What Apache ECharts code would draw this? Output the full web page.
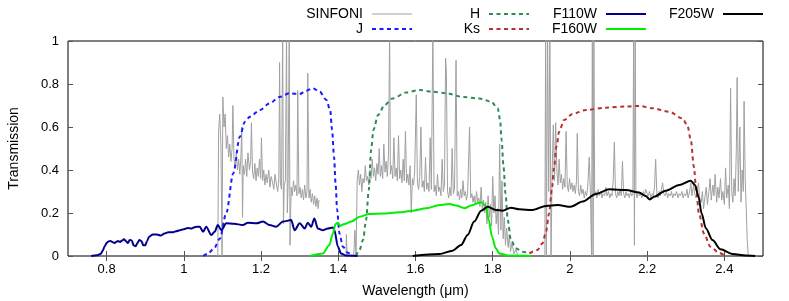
<!DOCTYPE html>
<html>
<head>
<meta charset="utf-8">
<script src="https://cdn.jsdelivr.net/npm/echarts@6/dist/echarts.min.js"></script>
<style>html,body{margin:0;padding:0;background:#fff}#c{width:789px;height:301px}</style>
</head>
<body>
<div id="c"></div>
<script>
const xTicks = [0.8, 1.0, 1.2, 1.4, 1.6, 1.8, 2.0, 2.2, 2.4];

const sinfoni = [
[1.088,0.0],[1.090,0.58],[1.093,0.66],[1.096,0.52],[1.099,0.0],[1.101,0.74],[1.104,0.6],[1.107,0.66],[1.110,0.5],[1.113,0.56],
[1.116,0.46],[1.119,0.52],[1.122,0.44],[1.125,0.5],[1.127,0.7],[1.130,0.45],[1.133,0.41],[1.136,0.48],[1.139,0.4],[1.142,0.45],
[1.145,0.38],[1.148,0.47],[1.150,0.6],[1.152,0.18],[1.154,0.42],[1.157,0.38],[1.160,0.45],[1.163,0.37],[1.166,0.48],[1.170,0.4],
[1.173,0.44],[1.175,0.62],[1.178,0.39],[1.181,0.36],[1.184,0.43],[1.187,0.35],[1.190,0.41],[1.193,0.37],[1.196,0.45],[1.199,0.36],
[1.201,0.55],[1.204,0.35],[1.207,0.4],[1.210,0.33],[1.213,0.38],[1.216,0.34],[1.220,0.4],[1.223,0.32],[1.226,0.37],[1.230,0.34],
[1.233,0.31],[1.236,0.38],[1.240,0.33],[1.243,0.3],[1.246,0.36],[1.248,0.9],[1.250,0.34],[1.253,0.31],[1.256,1.05],[1.258,0.15],
[1.260,0.33],[1.263,0.35],[1.266,1.05],[1.268,0.2],[1.270,0.33],[1.273,1.05],[1.275,0.05],[1.278,0.32],[1.281,0.28],[1.284,0.35],
[1.287,0.3],[1.290,0.33],[1.293,0.28],[1.295,0.77],[1.298,0.29],[1.301,0.32],[1.304,0.27],[1.307,0.31],[1.310,0.26],[1.313,0.33],
[1.316,0.27],[1.319,0.3],[1.321,0.85],[1.324,0.27],[1.327,0.31],[1.330,0.25],[1.333,0.29],[1.336,0.24],[1.339,0.28],[1.342,0.23],
[1.345,0.27],[1.348,0.22],[1.350,0.26],[1.351,null],
[1.420,0.0],[1.421,0.1],[1.423,0.0],[1.440,0.0],[1.443,0.12],[1.446,0.0],[1.449,0.35],[1.452,0.4],[1.455,0.33],[1.458,0.38],
[1.461,0.3],[1.464,0.36],[1.467,0.34],[1.470,0.42],[1.473,0.35],[1.476,0.37],[1.479,0.33],[1.482,0.4],[1.485,0.36],[1.488,0.45],
[1.491,0.37],[1.494,0.41],[1.497,0.35],[1.500,0.43],[1.503,0.38],[1.506,0.5],[1.509,0.37],[1.512,0.42],[1.515,0.36],[1.518,0.52],
[1.521,0.39],[1.524,0.44],[1.527,0.37],[1.530,0.47],[1.533,1.05],[1.535,0.38],[1.538,0.42],[1.541,0.36],[1.544,0.55],[1.547,0.37],
[1.550,0.41],[1.553,0.35],[1.556,0.56],[1.559,0.36],[1.562,0.4],[1.565,0.34],[1.568,0.45],[1.571,0.35],[1.574,0.58],[1.577,0.34],
[1.580,0.38],[1.583,0.33],[1.586,0.42],[1.589,0.2],[1.592,0.36],[1.595,0.33],[1.598,0.4],[1.602,0.75],[1.605,0.34],[1.608,0.31],
[1.611,0.37],[1.614,0.6],[1.617,0.32],[1.620,0.35],[1.623,0.3],[1.626,0.46],[1.629,0.31],[1.632,0.34],[1.635,0.3],[1.638,0.55],
[1.641,0.31],[1.645,1.05],[1.648,0.3],[1.651,0.33],[1.654,0.28],[1.657,0.38],[1.660,0.3],[1.663,0.32],[1.666,0.28],[1.669,0.45],
[1.672,0.3],[1.675,0.33],[1.678,0.92],[1.680,0.85],[1.683,0.3],[1.686,0.27],[1.689,0.32],[1.692,0.28],[1.695,0.5],[1.698,0.29],
[1.701,0.31],[1.705,0.91],[1.708,0.28],[1.711,0.3],[1.714,0.26],[1.717,0.31],[1.720,0.27],[1.723,0.35],[1.726,0.28],[1.729,0.3],
[1.732,0.26],[1.735,0.29],[1.740,0.6],[1.743,0.27],[1.746,0.29],[1.749,0.25],[1.752,0.28],[1.755,0.24],[1.758,0.3],[1.761,0.25],
[1.764,0.27],[1.767,0.23],[1.770,0.32],[1.773,0.22],[1.776,0.26],[1.779,0.2],[1.782,0.25],[1.785,0.15],[1.788,0.28],[1.791,0.18],
[1.794,0.24],[1.797,0.14],[1.800,0.37],[1.803,0.2],[1.806,0.28],[1.809,0.15],[1.812,0.22],[1.815,0.1],[1.818,0.52],[1.821,0.12],
[1.824,0.35],[1.827,0.08],[1.830,0.18],[1.833,0.05],[1.836,0.13],[1.840,0.04],[1.843,0.1],[1.846,0.02],[1.850,0.06],[1.855,0.01],
[1.860,0.03],[1.865,0.0],[1.866,null],
[1.935,0.0],[1.937,1.05],[1.939,0.0],[1.942,1.05],[1.945,0.3],[1.948,1.05],[1.951,0.0],[1.954,0.4],[1.957,0.61],[1.960,0.35],
[1.963,0.62],[1.966,0.4],[1.969,0.33],[1.972,0.45],[1.975,0.34],[1.978,0.38],[1.981,0.31],[1.984,0.36],[1.987,0.32],[1.990,0.58],
[1.993,0.33],[1.996,0.3],[1.999,0.36],[2.002,0.31],[2.005,0.34],[2.008,0.3],[2.011,0.33],[2.014,0.29],[2.017,0.35],[2.019,0.57],
[2.022,0.3],[2.025,0.28],[2.028,0.33],[2.031,0.29],[2.034,0.31],[2.037,0.27],[2.040,0.3],[2.043,0.28],[2.046,0.32],[2.050,0.46],
[2.053,0.29],[2.056,0.0],[2.058,1.05],[2.060,0.0],[2.062,1.05],[2.064,0.28],[2.067,0.3],[2.070,0.27],[2.073,0.31],[2.076,0.28],
[2.080,0.3],[2.083,0.27],[2.086,0.29],[2.090,0.28],[2.093,0.32],[2.096,0.28],[2.100,0.3],[2.103,0.27],[2.106,0.29],[2.109,0.28],
[2.112,0.35],[2.115,0.53],[2.118,0.29],[2.121,0.27],[2.124,0.3],[2.127,0.28],[2.130,0.31],[2.133,0.28],[2.136,0.44],[2.139,0.29],
[2.142,0.27],[2.145,0.3],[2.148,0.28],[2.151,0.29],[2.154,0.27],[2.157,0.3],[2.160,0.28],[2.163,0.29],[2.165,1.05],[2.167,0.05],
[2.169,1.05],[2.171,0.29],[2.174,0.27],[2.177,0.3],[2.180,0.28],[2.183,0.29],[2.186,0.27],[2.190,0.3],[2.193,0.28],[2.196,0.31],
[2.200,0.29],[2.203,0.28],[2.206,0.3],[2.210,0.27],[2.213,0.29],[2.216,0.28],[2.219,0.32],[2.222,0.45],[2.225,0.29],[2.228,0.27],
[2.231,0.3],[2.234,0.28],[2.237,0.31],[2.240,0.34],[2.243,0.29],[2.246,0.28],[2.250,0.3],[2.253,0.27],[2.256,0.29],[2.260,0.28],
[2.263,0.3],[2.266,0.27],[2.270,0.29],[2.273,0.28],[2.276,0.3],[2.280,0.27],[2.283,0.29],[2.286,0.28],[2.290,0.3],[2.293,0.27],
[2.296,0.29],[2.300,0.28],[2.303,0.31],[2.306,0.27],[2.310,0.3],[2.313,0.34],[2.316,0.28],[2.320,0.33],[2.323,0.29],[2.326,0.27],
[2.330,0.31],[2.333,0.34],[2.336,0.27],[2.340,0.25],[2.343,0.3],[2.346,0.22],[2.350,0.28],[2.353,0.32],[2.356,0.24],[2.360,0.3],
[2.363,0.36],[2.366,0.26],[2.370,0.33],[2.373,0.28],[2.376,0.38],[2.380,0.25],[2.383,0.32],[2.386,0.27],[2.390,0.36],[2.393,0.26],
[2.396,0.3],[2.400,0.24],[2.403,0.41],[2.406,0.27],[2.410,0.33],[2.413,0.22],[2.416,0.78],[2.419,0.3],[2.422,0.25],[2.425,0.36],
[2.428,0.28],[2.431,0.5],[2.433,0.83],[2.436,0.3],[2.440,0.6],[2.443,0.25],[2.446,0.4],[2.449,0.3],[2.451,0.72],[2.454,0.35],
[2.457,0.2],[2.459,0.08],[2.462,0.0]
];

const bandJ = [
[1.050,0.0],[1.062,0.01],[1.078,0.035],[1.093,0.08],[1.110,0.2],[1.128,0.384],[1.145,0.555],[1.158,0.625],[1.171,0.648],[1.197,0.679],
[1.222,0.71],[1.248,0.74],[1.274,0.757],[1.300,0.753],[1.317,0.769],[1.334,0.78],[1.352,0.764],[1.369,0.726],[1.379,0.679],[1.384,0.586],
[1.389,0.462],[1.393,0.338],[1.397,0.214],[1.403,0.105],[1.412,0.043],[1.425,0.015],[1.438,0.0]
];

const bandH = [
[1.446,0.0],[1.455,0.028],[1.464,0.074],[1.472,0.167],[1.479,0.307],[1.485,0.493],[1.491,0.586],[1.503,0.656],[1.520,0.702],[1.541,0.733],
[1.576,0.76],[1.610,0.772],[1.645,0.764],[1.679,0.757],[1.722,0.74],[1.765,0.733],[1.796,0.718],[1.813,0.687],[1.819,0.633],[1.823,0.54],
[1.828,0.415],[1.833,0.291],[1.839,0.167],[1.847,0.074],[1.860,0.036],[1.877,0.02],[1.895,0.012]
];

const bandKs = [
[1.895,0.012],[1.916,0.028],[1.929,0.059],[1.938,0.113],[1.946,0.198],[1.953,0.307],[1.959,0.415],[1.965,0.509],[1.972,0.578],[1.985,0.633],
[2.007,0.661],[2.041,0.679],[2.093,0.69],[2.145,0.695],[2.179,0.698],[2.214,0.687],[2.257,0.671],[2.291,0.64],[2.304,0.609],[2.313,0.54],
[2.321,0.415],[2.327,0.307],[2.334,0.198],[2.347,0.105],[2.364,0.043],[2.386,0.015],[2.403,0.0]
];

const f110w = [
[0.760,0.0],[0.775,0.003],[0.785,0.01],[0.790,0.025],[0.795,0.045],[0.800,0.06],[0.805,0.068],[0.810,0.07],[0.815,0.065],[0.820,0.06],
[0.825,0.066],[0.830,0.07],[0.835,0.065],[0.840,0.072],[0.845,0.078],[0.850,0.07],[0.855,0.06],[0.860,0.075],[0.865,0.072],[0.870,0.05],
[0.875,0.045],[0.880,0.06],[0.885,0.075],[0.890,0.07],[0.895,0.05],[0.900,0.05],[0.905,0.07],[0.910,0.09],[0.920,0.1],[0.930,0.1],
[0.940,0.095],[0.950,0.105],[0.960,0.11],[0.970,0.11],[0.980,0.115],[0.990,0.12],[1.000,0.125],[1.010,0.13],[1.020,0.128],[1.030,0.135],
[1.041,0.136],[1.050,0.113],[1.058,0.136],[1.071,0.098],[1.080,0.113],[1.088,0.144],[1.097,0.12],[1.110,0.152],[1.130,0.15],[1.153,0.144],
[1.166,0.155],[1.188,0.152],[1.205,0.16],[1.222,0.144],[1.239,0.136],[1.257,0.16],[1.278,0.167],[1.287,0.12],[1.300,0.152],[1.313,0.128],
[1.321,0.155],[1.330,0.136],[1.338,0.175],[1.347,0.128],[1.360,0.12],[1.373,0.128],[1.386,0.133],[1.390,0.12],[1.399,0.043],[1.407,0.012],
[1.420,0.002],[1.450,0.0]
];

const f160w = [
[1.326,0.0],[1.360,0.012],[1.377,0.051],[1.386,0.105],[1.393,0.149],[1.399,0.155],[1.405,0.14],[1.416,0.149],[1.434,0.16],[1.455,0.183],
[1.481,0.195],[1.515,0.198],[1.558,0.203],[1.593,0.211],[1.628,0.222],[1.662,0.237],[1.688,0.242],[1.705,0.235],[1.727,0.222],[1.744,0.235],
[1.761,0.245],[1.770,0.25],[1.781,0.235],[1.790,0.167],[1.798,0.09],[1.808,0.036],[1.817,0.012],[1.840,0.002],[1.900,0.0]
];

const f205w = [
[1.593,0.0],[1.662,0.009],[1.696,0.025],[1.718,0.051],[1.735,0.098],[1.752,0.16],[1.770,0.211],[1.787,0.229],[1.808,0.214],[1.826,0.211],
[1.847,0.225],[1.869,0.217],[1.903,0.214],[1.938,0.233],[1.968,0.237],[2.002,0.229],[2.033,0.253],[2.067,0.288],[2.102,0.31],[2.145,0.307],
[2.179,0.295],[2.196,0.279],[2.207,0.263],[2.218,0.276],[2.248,0.304],[2.283,0.33],[2.313,0.35],[2.324,0.33],[2.333,0.276],[2.341,0.198],
[2.352,0.129],[2.369,0.074],[2.390,0.031],[2.421,0.009],[2.455,0.002],[2.480,0.0]
];

const FONT = 'Liberation Sans, Arial, Helvetica, sans-serif';
const chart = echarts.init(document.getElementById('c'), null, {renderer: 'canvas'});

function lineSeries(name, data, color, width, dash, smooth) {
  return {
    type: 'line', name: name, data: data, symbol: 'none', showSymbol: false,
    smooth: smooth, smoothMonotone: 'x', clip: true, connectNulls: false,
    lineStyle: {color: color, width: width, type: dash},
    itemStyle: {color: color},
    emphasis: {disabled: true}, silent: true
  };
}

const dotted = [4, 3.5];
const legendBase = {
  orient: 'vertical', align: 'right', top: 7, itemWidth: 40, itemHeight: 12, itemGap: 1, padding: 0,
  selectedMode: false, itemStyle: {opacity: 0},
  textStyle: {fontSize: 14, fontFamily: FONT, color: '#000', padding: [0, 4, 0, 0]}
};
function leg(names, right) {
  return Object.assign({}, legendBase, {right: right, data: names});
}

const tickStyle = {inside: true, length: 5, lineStyle: {color: '#555', width: 1}};

chart.setOption({
  animation: false,
  backgroundColor: '#fff',
  grid: {left: 68, right: 26, top: 41, bottom: 45, show: true, borderColor: '#000', borderWidth: 1,
         containLabel: false, outerBoundsMode: 'none'},
  legend: [
    leg([{name: 'SINFONI', lineStyle: {width: 1}}, {name: 'J', lineStyle: {width: 2}}], 376),
    leg([{name: 'H', lineStyle: {width: 2}}, {name: 'Ks', lineStyle: {width: 2}}], 259),
    leg([{name: 'F110W', lineStyle: {width: 2}}, {name: 'F160W', lineStyle: {width: 2}}], 142),
    leg([{name: 'F205W', lineStyle: {width: 2}}], 25)
  ],
  xAxis: [
    {type: 'value', min: 0.7, max: 2.5, position: 'bottom',
     axisLine: {show: false}, splitLine: {show: false},
     axisTick: Object.assign({customValues: xTicks}, tickStyle),
     axisLabel: {customValues: xTicks, margin: 7, fontSize: 13, fontFamily: FONT, color: '#000',
                 formatter: function (v) { return String(+(+v).toFixed(2)); }},
     name: 'Wavelength (\u03bcm)', nameLocation: 'middle', nameGap: 28,
     nameTextStyle: {fontSize: 14, fontFamily: FONT, color: '#000'}},
    {type: 'value', min: 0.7, max: 2.5, position: 'top',
     axisLine: {show: false}, splitLine: {show: false},
     axisTick: Object.assign({customValues: xTicks}, tickStyle),
     axisLabel: {show: false}}
  ],
  yAxis: [
    {type: 'value', min: 0, max: 1, interval: 0.2, position: 'left',
     axisLine: {show: false}, splitLine: {show: false},
     axisTick: tickStyle,
     axisLabel: {margin: 9, fontSize: 13, fontFamily: FONT, color: '#000'},
     name: 'Transmission', nameLocation: 'middle', nameGap: 47, nameRotate: 90,
     nameTextStyle: {fontSize: 14, fontFamily: FONT, color: '#000'}},
    {type: 'value', min: 0, max: 1, interval: 0.2, position: 'right',
     axisLine: {show: false}, splitLine: {show: false},
     axisTick: tickStyle, axisLabel: {show: false}}
  ],
  series: [
    lineSeries('SINFONI', sinfoni, '#a0a0a0', 1, 'solid', false),
    lineSeries('J', bandJ, '#1a1aff', 2, dotted, 0.3),
    lineSeries('H', bandH, '#2e8b57', 2, dotted, 0.3),
    lineSeries('Ks', bandKs, '#b83030', 2, dotted, 0.3),
    lineSeries('F110W', f110w, '#00008b', 2, 'solid', 0.3),
    lineSeries('F160W', f160w, '#00ee00', 2, 'solid', 0.3),
    lineSeries('F205W', f205w, '#000000', 2, 'solid', 0.3)
  ]
});
</script>
</body>
</html>
